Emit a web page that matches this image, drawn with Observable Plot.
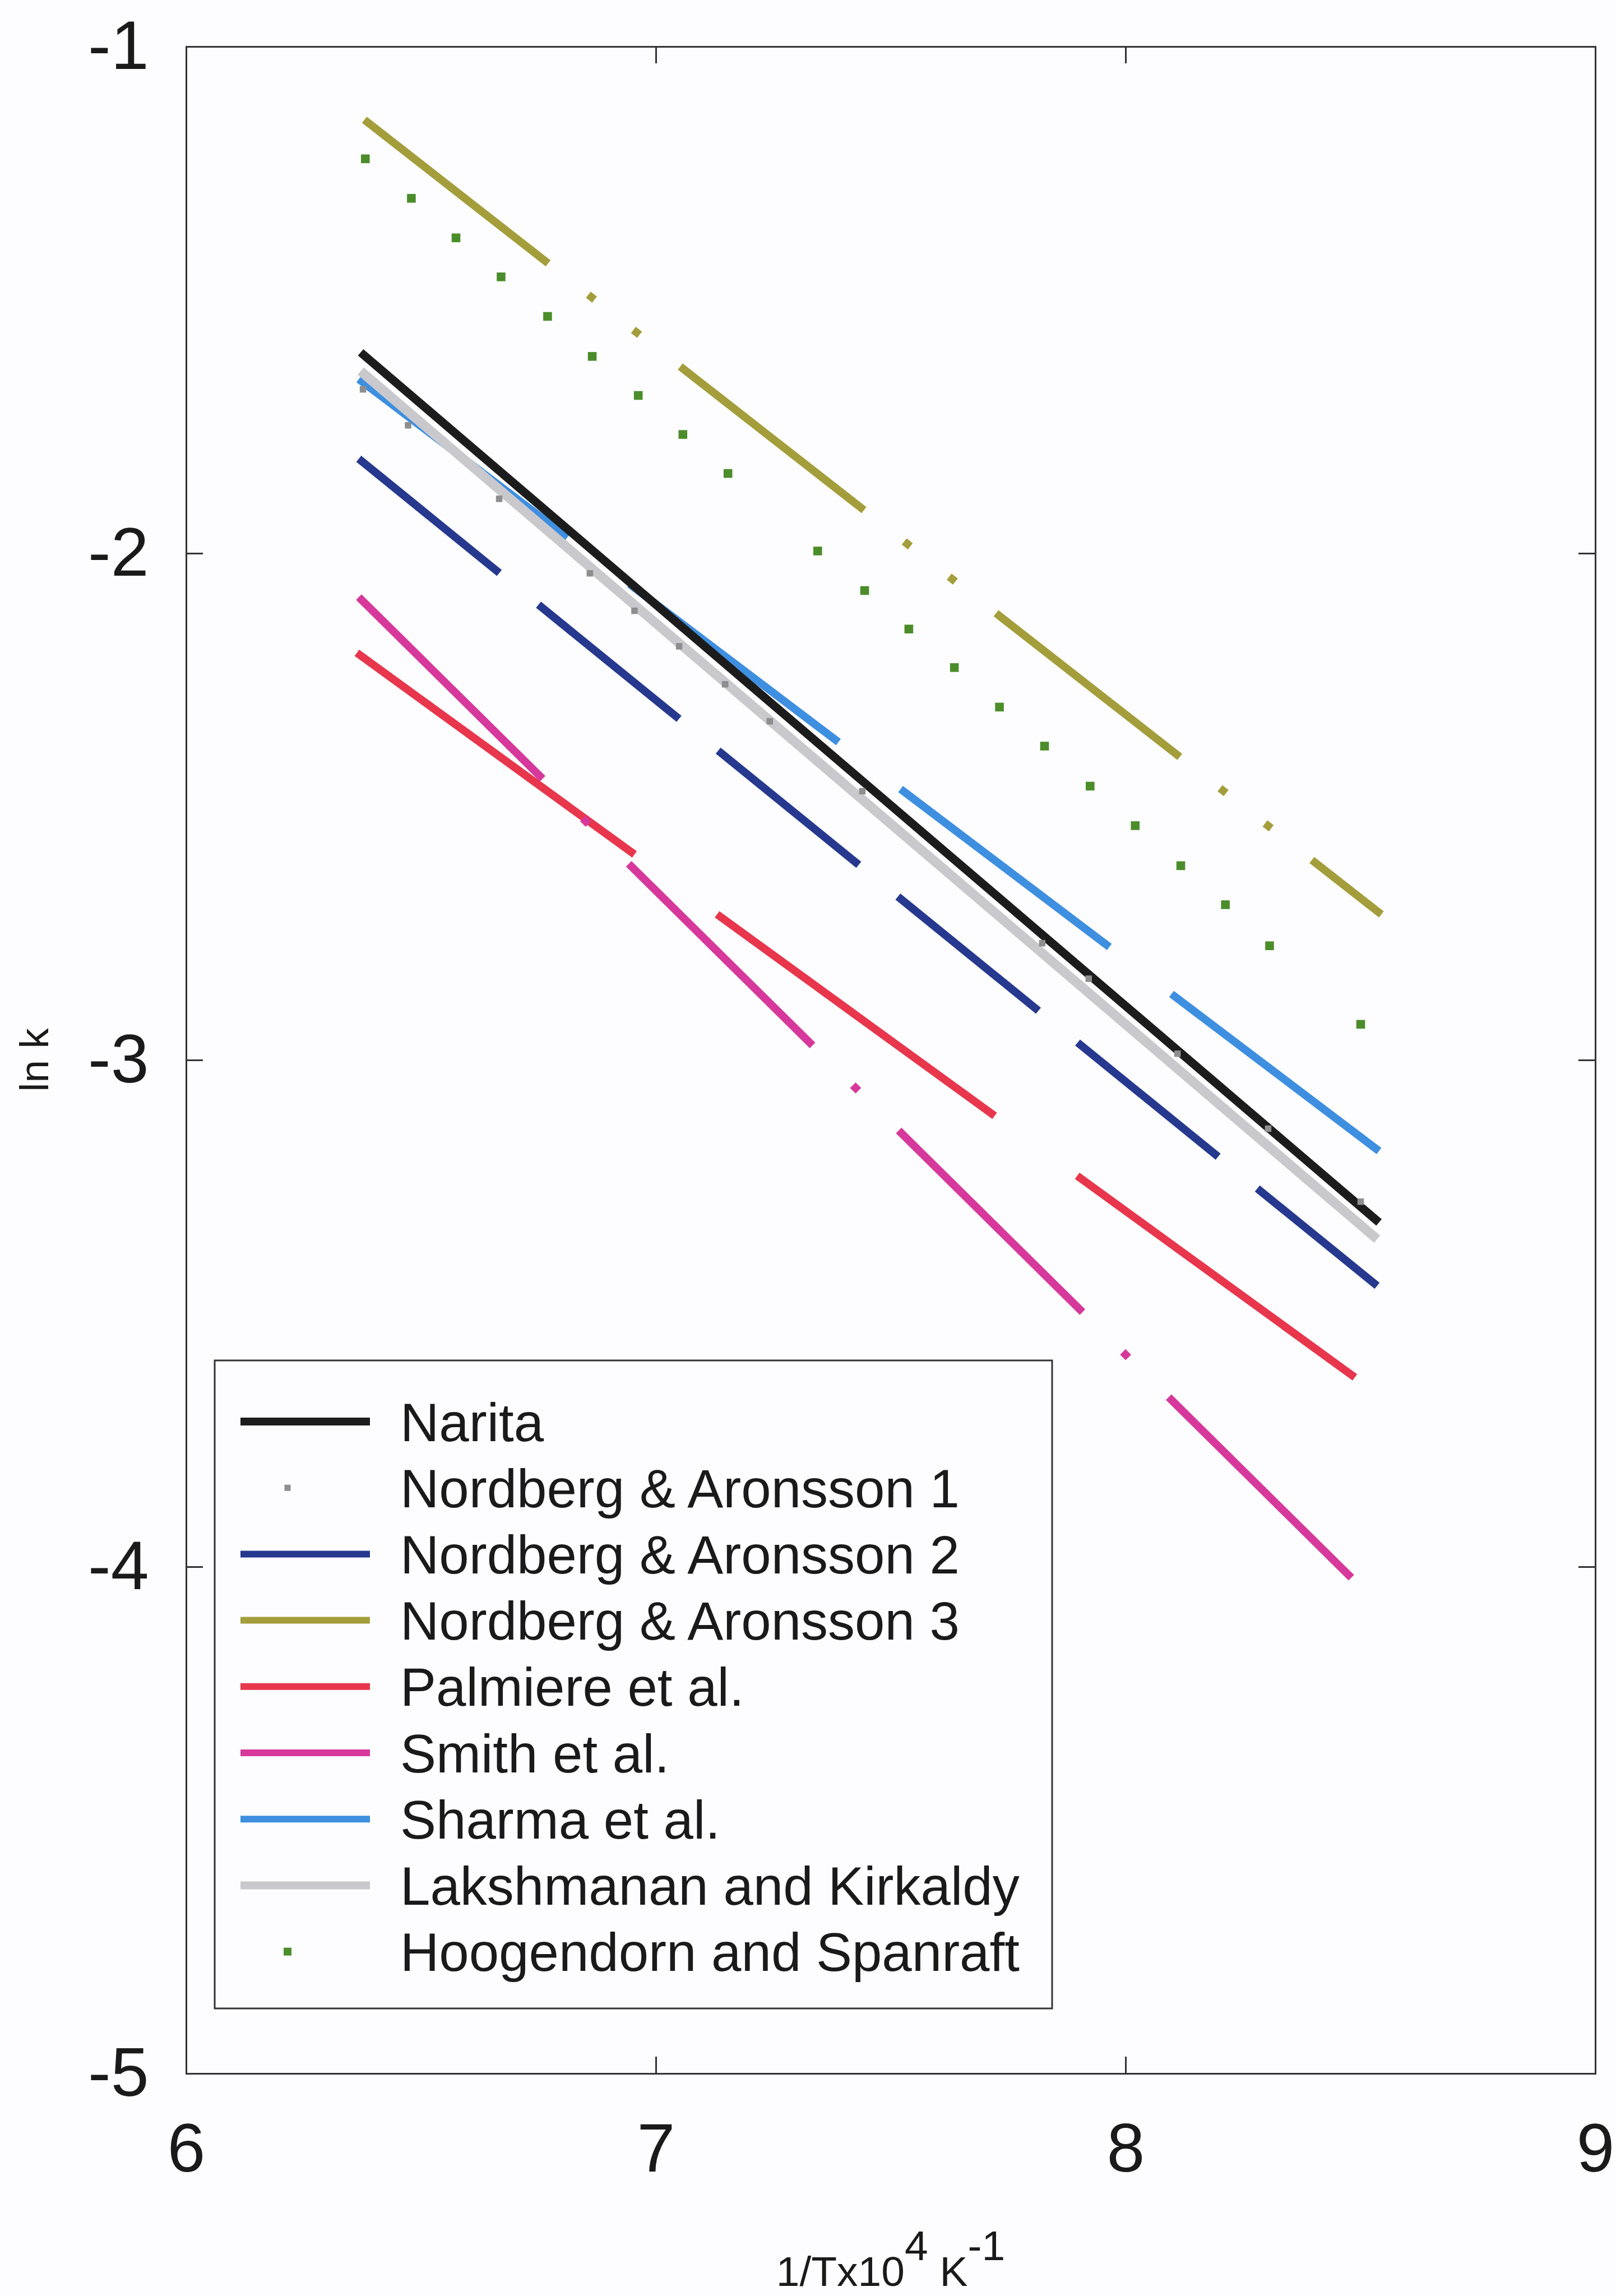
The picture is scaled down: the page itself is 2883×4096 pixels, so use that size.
<!DOCTYPE html>
<html>
<head>
<meta charset="utf-8">
<script src="https://cdn.jsdelivr.net/npm/d3@7"></script>
<script src="https://cdn.jsdelivr.net/npm/@observablehq/plot@0.6"></script>
<style>
  html, body { margin: 0; padding: 0; background: #fdfdff; }
  #chart { width: 2883px; height: 4096px; }
</style>
</head>
<body>
<div id="chart"></div>
<script>
// ---------- data ----------
const xTicks = [6, 7, 8, 9];
const yTicks = [-1, -2, -3, -4, -5];
const innerXTicks = [7, 8];
const innerYTicks = [-2, -3, -4];

const seriesNames = [
  "Narita",
  "Nordberg & Aronsson 1",
  "Nordberg & Aronsson 2",
  "Nordberg & Aronsson 3",
  "Palmiere et al.",
  "Smith et al.",
  "Sharma et al.",
  "Lakshmanan and Kirkaldy",
  "Hoogendorn and Spanraft"
];
const seriesColors = [
  "#1c1c1c", "#8e8e8e", "#26398e", "#a39e3b", "#e8364c",
  "#d6399b", "#3e8fe0", "#c9c9cd", "#4b8d2b"
];

// straight-line series: end points (x = 1/T x10^4, y = ln k)
const naritaX = [6.371, 8.539],     naritaY = [-1.603, -3.320];
const lakshX = [6.371, 8.535],      lakshY = [-1.640, -3.353];
const sharmaX = [6.367, 8.539],     sharmaY = [-1.656, -3.179];
const nordberg2X = [6.367, 8.535],  nordberg2Y = [-1.813, -3.445];
const nordberg3X = [6.379, 8.544],  nordberg3Y = [-1.144, -2.712];
const palmiereX = [6.363, 8.488],   palmiereY = [-2.196, -3.626];
const smithX = [6.367, 8.480],      smithY = [-2.086, -4.021];

// dotted series: visible dots
const nordberg1X = [6.376, 6.472, 6.666, 6.859, 6.954, 7.049, 7.147, 7.242, 7.439, 7.822, 7.921, 8.110, 8.303, 8.500];
const nordberg1Y = [-1.676, -1.747, -1.892, -2.039, -2.113, -2.183, -2.258, -2.331, -2.469, -2.769, -2.839, -2.987, -3.135, -3.279];
const hoogX = [6.381, 6.479, 6.574, 6.670, 6.769, 6.864, 6.962, 7.057, 7.153, 7.344, 7.444, 7.538, 7.635, 7.731, 7.827, 7.924, 8.020, 8.117, 8.212, 8.306, 8.500];
const hoogY = [-1.221, -1.299, -1.377, -1.454, -1.532, -1.611, -1.688, -1.765, -1.842, -1.995, -2.073, -2.149, -2.225, -2.303, -2.380, -2.459, -2.537, -2.616, -2.693, -2.774, -2.929];

// ---------- helpers ----------
const pts = (xs, ys) => xs.map((x, i) => ({x, y: ys[i]}));

const W = 2883, H = 4096;
const mL = 332, mR = 37, mT = 83, mB = 397;
const innerW = W - mL - mR, innerH = H - mT - mB;
const tickLen = 30;
const FONT = "'Liberation Sans', Arial, Helvetica, sans-serif";
const LW = 14;

function lineMark(xs, ys, color, width, dash) {
  return Plot.line(pts(xs, ys), {
    x: "x", y: "y", stroke: color, strokeWidth: width,
    strokeDasharray: dash, strokeLinecap: "butt", strokeLinejoin: "miter"
  });
}

const plot = Plot.plot({
  width: W, height: H,
  marginLeft: mL, marginRight: mR, marginTop: mT, marginBottom: mB,
  style: { background: "#fdfdff", fontFamily: FONT, color: "#1a1a1a" },
  x: { domain: [6, 9] },
  y: { domain: [-5, -1] },
  marks: [
    // lines
    lineMark(sharmaX, sharmaY, seriesColors[6], LW, "467,139"),
    lineMark(lakshX, lakshY, seriesColors[7], 17, null),
    lineMark(naritaX, naritaY, seriesColors[0], 15, null),
    lineMark(nordberg2X, nordberg2Y, seriesColors[2], LW, "323,90"),
    lineMark(nordberg3X, nordberg3Y, seriesColors[3], LW, "416,91,14,88,14,92"),
    lineMark(palmiereX, palmiereY, seriesColors[4], LW, "612,182"),
    lineMark(smithX, smithY, seriesColors[5], LW, "461,101,14,101"),
    // dotted series
    Plot.dot(pts(nordberg1X, nordberg1Y), {x: "x", y: "y", symbol: "square", r: 6.5, fill: seriesColors[1], stroke: null}),
    Plot.dot(pts(hoogX, hoogY), {x: "x", y: "y", symbol: "square", r: 8.8, fill: seriesColors[8], stroke: null}),
    // frame and inward ticks
    Plot.frame({stroke: "#333", strokeWidth: 3, fill: "none"}),
    Plot.tickX(innerXTicks, {x: d => d, insetTop: innerH - tickLen, stroke: "#333", strokeWidth: 3}),
    Plot.tickX(innerXTicks, {x: d => d, insetBottom: innerH - tickLen, stroke: "#333", strokeWidth: 3}),
    Plot.tickY(innerYTicks, {y: d => d, insetRight: innerW - tickLen, stroke: "#333", strokeWidth: 3}),
    Plot.tickY(innerYTicks, {y: d => d, insetLeft: innerW - tickLen, stroke: "#333", strokeWidth: 3}),
    // axes
    Plot.axisX({ticks: xTicks, tickSize: 0, tickPadding: 88, fontSize: 122, label: null, tickFormat: d => String(d)}),
    Plot.axisY({ticks: yTicks, tickSize: 0, tickPadding: 67, fontSize: 122, label: null, tickFormat: d => String(d)})
  ]
});

document.getElementById("chart").appendChild(plot);

// ---------- axis titles & in-plot legend ----------
const svg = d3.select(plot);
const sx = plot.scale("x"), sy = plot.scale("y");

// x title with superscripts
const xt = svg.append("text")
  .attr("x", (sx.apply(6) + sx.apply(9)) / 2)
  .attr("y", 4078)
  .attr("text-anchor", "middle")
  .attr("font-family", FONT)
  .attr("font-size", 75)
  .attr("fill", "#1a1a1a");
xt.append("tspan").text("1/Tx10");
xt.append("tspan").attr("dy", -46).text("4");
xt.append("tspan").attr("dy", 46).text(" K");
xt.append("tspan").attr("dy", -46).text("-1");

// y title
svg.append("text")
  .attr("transform", `translate(86,${(sy.apply(-1) + sy.apply(-5)) / 2}) rotate(-90)`)
  .attr("text-anchor", "middle")
  .attr("font-family", FONT)
  .attr("font-size", 73)
  .attr("fill", "#1a1a1a")
  .text("ln k");

// legend
const lg = svg.append("g").attr("text-anchor", "start");
const boxX = 383, boxY = 2427, boxW = 1494, boxH = 1156;
lg.append("rect")
  .attr("x", boxX).attr("y", boxY).attr("width", boxW).attr("height", boxH)
  .attr("fill", "#fdfdff").attr("stroke", "#333").attr("stroke-width", 3);
const rowY0 = 2536, rowStep = 118.2;
const legendWidths = [14, 0, 12, 12, 12, 12, 12, 14, 0];
const legendDots = [0, 11, 0, 0, 0, 0, 0, 0, 14];
seriesNames.forEach((name, i) => {
  const y = rowY0 + i * rowStep;
  if (legendDots[i]) {
    lg.append("rect")
      .attr("x", 513 - legendDots[i] / 2).attr("y", y - legendDots[i] / 2)
      .attr("width", legendDots[i]).attr("height", legendDots[i])
      .attr("fill", seriesColors[i]);
  } else {
    lg.append("line")
      .attr("x1", 429).attr("x2", 660).attr("y1", y).attr("y2", y)
      .attr("stroke", seriesColors[i]).attr("stroke-width", legendWidths[i]);
  }
  lg.append("text")
    .attr("x", 714).attr("y", y + 34.5)
    .attr("text-anchor", "start")
    .attr("font-family", FONT).attr("font-size", 96).attr("fill", "#1a1a1a")
    .text(name);
});
</script>
</body>
</html>
